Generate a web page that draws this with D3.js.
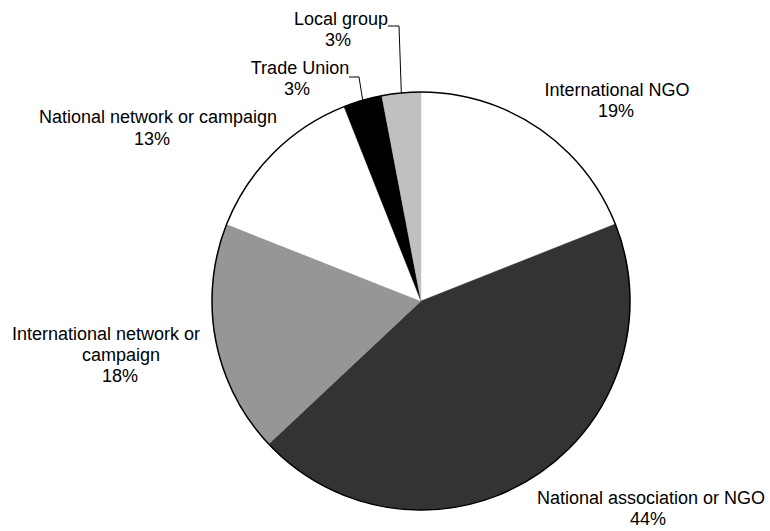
<!DOCTYPE html>
<html>
<head>
<meta charset="utf-8">
<script src="https://cdn.jsdelivr.net/npm/d3@7/dist/d3.min.js"></script>
<style>
  html, body { margin: 0; padding: 0; background: #ffffff; }
  svg { display: block; }
  text { font-family: "Liberation Sans", Arial, sans-serif; font-size: 18px; fill: #000; }
</style>
</head>
<body>
<svg id="chart" width="770" height="531"></svg>
<script>
// Membership of respondents by type of organisation (share, %)
const categories = [
  "International NGO",
  "National association or NGO",
  "International network or campaign",
  "National network or campaign",
  "Trade Union",
  "Local group"
];
const shares = [19, 44, 18, 13, 3, 3];

// Slice fills, in the same order as the categories
const fills = ["#ffffff", "#333333", "#969696", "#ffffff", "#000000", "#c0c0c0"];

// Label layout: text lines with their centre x and baseline y; optional leader elbow
const labelLayout = {
  "International NGO":                 { lines: [[617, 96]], pct: [616, 117] },
  "National association or NGO":       { lines: [[651, 504]], pct: [648, 525] },
  "International network or campaign": { lines: [[106, 340, "International network or"], [121, 361, "campaign"]], pct: [120, 382] },
  "National network or campaign":      { lines: [[158, 123]], pct: [152, 145] },
  "Trade Union":                       { lines: [[300, 74]], pct: [297, 95], leader: [[349, 77], [359, 77]] },
  "Local group":                       { lines: [[341, 25]], pct: [338, 46], leader: [[388, 26], [399, 26]] }
};

const cx = 421, cy = 301, radius = 209;
const svg = d3.select("#chart");
const g = svg.append("g").attr("transform", `translate(${cx},${cy})`);

const data = categories.map((c, i) => ({ category: c, value: shares[i], fill: fills[i] }));
const pie = d3.pie().sort(null).value(d => d.value).startAngle(0).endAngle(2 * Math.PI);
const arcs = pie(data);
const arc = d3.arc().innerRadius(0).outerRadius(radius);

// Slices
g.selectAll("path.slice")
  .data(arcs)
  .join("path")
  .attr("class", "slice")
  .attr("d", arc)
  .attr("fill", d => d.data.fill)
  .attr("stroke", d => d.data.fill)
  .attr("stroke-width", 0.5);

// Outer rim
g.append("circle")
  .attr("r", radius)
  .attr("fill", "none")
  .attr("stroke", "#000")
  .attr("stroke-width", 1.5);

// Leader lines for the thin slices
const rimArc = d3.arc().innerRadius(radius).outerRadius(radius);
arcs.forEach(a => {
  const lay = labelLayout[a.data.category];
  if (!lay.leader) return;
  const mid = (a.startAngle + a.endAngle) / 2;
  const end = [cx + radius * Math.sin(mid), cy - radius * Math.cos(mid)];
  const pts = lay.leader.concat([end]);
  svg.append("path")
    .attr("d", d3.line()(pts))
    .attr("fill", "none")
    .attr("stroke", "#000")
    .attr("stroke-width", 1);
});

// Category and percentage labels
arcs.forEach(a => {
  const lay = labelLayout[a.data.category];
  const lbl = svg.append("g").attr("class", "label");
  lay.lines.forEach(ln => {
    lbl.append("text")
      .attr("x", ln[0])
      .attr("y", ln[1])
      .attr("text-anchor", "middle")
      .text(ln[2] || a.data.category);
  });
  lbl.append("text")
    .attr("x", lay.pct[0])
    .attr("y", lay.pct[1])
    .attr("text-anchor", "middle")
    .text(`${a.data.value}%`);
});
</script>
</body>
</html>
